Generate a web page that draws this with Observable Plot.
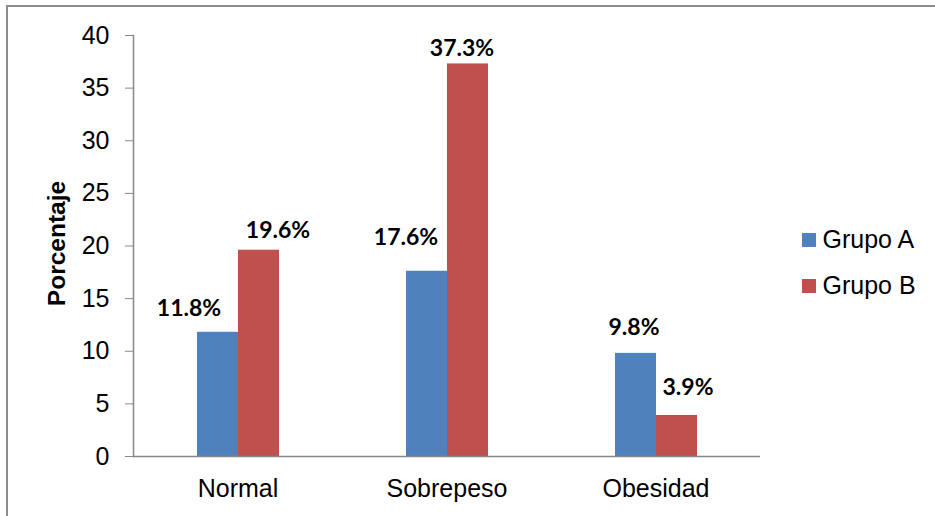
<!DOCTYPE html>
<html>
<head>
<meta charset="utf-8">
<script src="https://cdn.jsdelivr.net/npm/d3@7"></script>
<script src="https://cdn.jsdelivr.net/npm/@observablehq/plot@0.6"></script>
<style>
  html, body { margin: 0; padding: 0; background: #fff; }
  #chart { width: 935px; height: 516px; }
</style>
</head>
<body>
<div id="chart"></div>
<script>
// Estado nutricional por grupo (%)
const categories = ["Normal", "Sobrepeso", "Obesidad"];
const groups = ["Grupo A", "Grupo B"];
const grupoA = [11.8, 17.6, 9.8];
const grupoB = [19.6, 37.3, 3.9];
const yTicks = [0, 5, 10, 15, 20, 25, 30, 35, 40];
const yTitle = "Porcentaje";

const rows = categories.flatMap((cat, i) => [
  {cat, grp: groups[0], val: grupoA[i]},
  {cat, grp: groups[1], val: grupoB[i]}
]);

// hand-placed offsets for each value label (dx, dy from the bar top)
const labelNudge = {
  "Normal|Grupo A": [-29, -16],
  "Normal|Grupo B": [19, -12],
  "Sobrepeso|Grupo A": [-21, -26],
  "Sobrepeso|Grupo B": [-6, -8],
  "Obesidad|Grupo A": [-2, -18],
  "Obesidad|Grupo B": [11, -20]
};

const axisGray = "#888888";

const labelMarks = rows.map(r => {
  const [dx, dy] = labelNudge[r.cat + "|" + r.grp];
  return Plot.text([r], {
    fx: "cat", x: "grp", y: "val",
    text: d => d.val.toFixed(1) + "%",
    dx, dy,
    lineAnchor: "bottom",
    textAnchor: "middle",
    fontFamily: "Lato, 'Open Sans', sans-serif",
    fontWeight: "bold",
    fontSize: 23,
    fill: "#000"
  });
});

const plot = Plot.plot({
  width: 935,
  height: 516,
  marginLeft: 132,
  marginRight: 175,
  marginTop: 35,
  marginBottom: 60,
  style: {
    fontFamily: "'Liberation Sans', Arial, sans-serif",
    fontSize: "25px",
    color: "#000",
    background: "#fff",
    overflow: "visible"
  },
  fx: {domain: categories, padding: 0, label: null},
  x: {domain: groups, paddingInner: 0, paddingOuter: 1.51, axis: null},
  y: {domain: [0, 40], label: null},
  color: {domain: groups, range: ["#4F81BD", "#C0504D"]},
  marks: [
    Plot.barY(rows, {fx: "cat", x: "grp", y: "val", fill: "grp"}),
    Plot.ruleY([0], {stroke: axisGray, strokeWidth: 1.5}),
    Plot.frame({anchor: "left", facetAnchor: "left", stroke: axisGray, strokeWidth: 1.5}),
    Plot.axisY(yTicks, {
      anchor: "left", tickSize: 8, tickPadding: 16, fontSize: 25,
      stroke: axisGray, fill: "#000", label: null
    }),
    Plot.axisFx({
      anchor: "bottom", tickSize: 0, tickPadding: 23, fontSize: 25,
      fill: "#000", label: null
    }),
    ...labelMarks
  ]
});

const svg = d3.select(plot);

// outer chart border (top and left edges)
svg.append("path")
  .attr("d", "M7,516V6H935")
  .attr("fill", "none")
  .attr("stroke", "#8c8c8c")
  .attr("stroke-width", 2);

// rotated y-axis title
svg.append("text")
  .attr("transform", "translate(65,243.5) rotate(-90)")
  .attr("text-anchor", "middle")
  .attr("font-family", "'Liberation Sans', Arial, sans-serif")
  .attr("font-weight", "bold")
  .attr("font-size", 24.5)
  .attr("fill", "#000")
  .text(yTitle);

// legend built from the plot's color scale
const color = plot.scale("color");
const legend = svg.append("g").attr("transform", "translate(802,233)");
color.domain.forEach((g, i) => {
  const row = legend.append("g").attr("transform", `translate(0,${i * 46})`);
  row.append("rect")
    .attr("width", 14).attr("height", 14)
    .attr("fill", color.range[i]);
  row.append("text")
    .attr("x", 20.5).attr("y", 15)
    .attr("text-anchor", "start")
    .attr("font-family", "'Liberation Sans', Arial, sans-serif")
    .attr("font-size", 25)
    .attr("fill", "#000")
    .text(g);
});

document.getElementById("chart").appendChild(plot);
</script>
</body>
</html>
